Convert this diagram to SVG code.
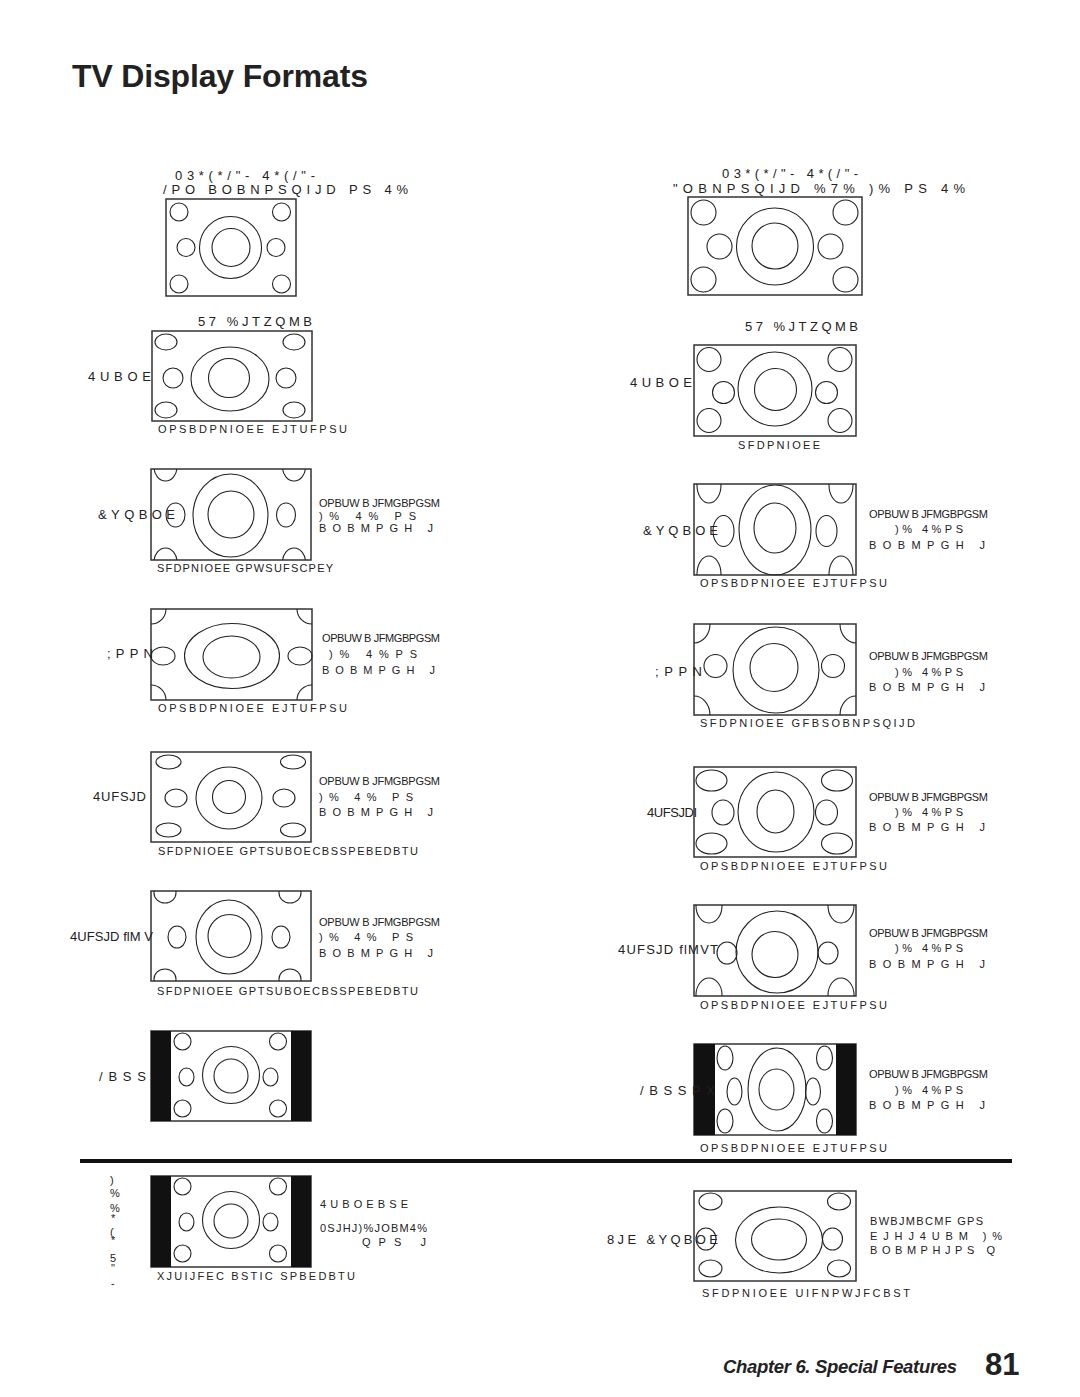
<svg xmlns="http://www.w3.org/2000/svg" width="1080" height="1397" viewBox="0 0 1080 1397">
<style>
.bx{fill:#fff;stroke:#333;stroke-width:1.5}
.sh{fill:none;stroke:#222;stroke-width:1.1}
.bar{fill:#111}
text{font-family:"Liberation Sans",Arial,Helvetica,sans-serif;fill:#222}
.hd{font-size:13px}
.lb{font-size:13px}
.sm{font-size:11px}
.cp{font-size:11px}
</style>
<defs>
<clipPath id="c3"><rect x="151" y="469" width="160" height="91"/></clipPath>
<clipPath id="c4"><rect x="151" y="609" width="161" height="91"/></clipPath>
<clipPath id="c6"><rect x="151" y="891" width="160" height="90"/></clipPath>
<clipPath id="r3c"><rect x="694" y="484" width="162" height="91"/></clipPath>
<clipPath id="r4c"><rect x="694" y="624" width="162" height="91"/></clipPath>
<clipPath id="r6c"><rect x="694" y="905" width="162" height="91"/></clipPath>
</defs>
<rect width="1080" height="1397" fill="#fff"/>
<text x="72" y="87" font-size="32" font-weight="bold" textLength="296" fill="#222">TV Display Formats</text>

<!-- LEFT COLUMN -->
<g id="l1">
<text class="hd" x="175" y="180" textLength="140">03*(*/&quot;- 4*(/&quot;-</text>
<text class="hd" x="163" y="194" textLength="245">/PO BOBNPSQIJD PS 4%</text>
<rect class="bx" x="166" y="199" width="130" height="97"/>
<circle class="sh" cx="179" cy="212" r="9"/><circle class="sh" cx="281.5" cy="212" r="9"/>
<circle class="sh" cx="179" cy="284" r="9"/><circle class="sh" cx="281.5" cy="284" r="9"/>
<circle class="sh" cx="186" cy="247.5" r="9"/><circle class="sh" cx="276" cy="247.5" r="9"/>
<circle class="sh" cx="230.5" cy="247.5" r="31"/><circle class="sh" cx="231" cy="247.5" r="19"/>
</g>

<g id="l2">
<text class="lb" x="198" y="326" textLength="114">57 %JTZQMB</text>
<text class="lb" x="88" y="381" textLength="63">4UBOE</text>
<rect class="bx" x="152" y="331" width="160" height="90"/>
<ellipse class="sh" cx="166" cy="342" rx="11" ry="8"/><ellipse class="sh" cx="294" cy="342" rx="11" ry="8"/>
<ellipse class="sh" cx="166" cy="410" rx="11" ry="8"/><ellipse class="sh" cx="294" cy="410" rx="11" ry="8"/>
<ellipse class="sh" cx="173" cy="378" rx="10" ry="10"/><ellipse class="sh" cx="286" cy="378" rx="10" ry="10"/>
<ellipse class="sh" cx="230" cy="379" rx="39" ry="32"/><ellipse class="sh" cx="229" cy="378" rx="20.5" ry="19.5"/>
<text class="cp" x="158" y="433" textLength="189">OPSBDPNIOEE EJTUFPSU</text>
</g>

<g id="l3">
<rect class="bx" x="151" y="469" width="160" height="91"/>
<g clip-path="url(#c3)">
<ellipse class="sh" cx="165.5" cy="467" rx="11.5" ry="14"/><ellipse class="sh" cx="294" cy="467" rx="11.5" ry="14"/>
<ellipse class="sh" cx="165.5" cy="562" rx="11.5" ry="14"/><ellipse class="sh" cx="294" cy="562" rx="11.5" ry="14"/>
</g>
<ellipse class="sh" cx="175.5" cy="515" rx="9.5" ry="12"/><ellipse class="sh" cx="286" cy="515" rx="9.5" ry="12"/>
<ellipse class="sh" cx="230.5" cy="515.5" rx="37.5" ry="41.5"/><ellipse class="sh" cx="231" cy="514.5" rx="23" ry="23.5"/>
<text class="lb" x="98" y="519" textLength="77">&amp;YQBOE</text>
<text class="sm" x="319" y="507" textLength="121">OPBUW B JFMGBPGSM</text>
<text class="sm" x="319" y="520" textLength="97">)% 4% PS</text>
<text class="sm" x="319" y="532" textLength="114">BOBMPGH J</text>
<text class="cp" x="157" y="572" textLength="176">SFDPNIOEE GPWSUFSCPEY</text>
</g>

<g id="l4">
<rect class="bx" x="151" y="609" width="161" height="91"/>
<g clip-path="url(#c4)">
<ellipse class="sh" cx="151" cy="609" rx="15" ry="15"/><ellipse class="sh" cx="312" cy="609" rx="15" ry="15"/>
<ellipse class="sh" cx="151" cy="700" rx="15" ry="15"/><ellipse class="sh" cx="312" cy="700" rx="15" ry="15"/>
</g>
<ellipse class="sh" cx="163" cy="656" rx="12" ry="9"/><ellipse class="sh" cx="300" cy="656" rx="12" ry="9"/>
<ellipse class="sh" cx="232" cy="656" rx="47.5" ry="32.5"/><ellipse class="sh" cx="231.5" cy="657" rx="28.5" ry="21"/>
<text class="lb" x="107" y="658" textLength="46">;PPN</text>
<text class="sm" x="322" y="642" textLength="118">OPBUW B JFMGBPGSM</text>
<text class="sm" x="329" y="658" textLength="88">)% 4%PS</text>
<text class="sm" x="322" y="674" textLength="113">BOBMPGH J</text>
<text class="cp" x="158" y="712" textLength="189">OPSBDPNIOEE EJTUFPSU</text>
</g>

<g id="l5">
<rect class="bx" x="151" y="752" width="160" height="90"/>
<ellipse class="sh" cx="168.5" cy="762" rx="12.5" ry="7"/><ellipse class="sh" cx="293" cy="762" rx="12.5" ry="7"/>
<ellipse class="sh" cx="168.5" cy="830" rx="12.5" ry="7"/><ellipse class="sh" cx="293" cy="830" rx="12.5" ry="7"/>
<ellipse class="sh" cx="176" cy="798" rx="11" ry="9"/><ellipse class="sh" cx="284" cy="798" rx="11" ry="9"/>
<ellipse class="sh" cx="229" cy="798" rx="33" ry="31"/><circle class="sh" cx="229" cy="797" r="16.5"/>
<text class="lb" x="93" y="801" textLength="53">4UFSJD</text>
<text class="sm" x="319" y="785" textLength="121">OPBUW B JFMGBPGSM</text>
<text class="sm" x="319" y="801" textLength="94">)% 4% PS</text>
<text class="sm" x="319" y="816" textLength="114">BOBMPGH J</text>
<text class="cp" x="158" y="855" textLength="260">SFDPNIOEE GPTSUBOECBSSPEBEDBTU</text>
</g>

<g id="l6">
<rect class="bx" x="151" y="891" width="160" height="90"/>
<g clip-path="url(#c6)">
<ellipse class="sh" cx="165" cy="893" rx="11" ry="10"/><ellipse class="sh" cx="290" cy="893" rx="11" ry="10"/>
<ellipse class="sh" cx="165" cy="979" rx="11" ry="10"/><ellipse class="sh" cx="290" cy="979" rx="11" ry="10"/>
</g>
<ellipse class="sh" cx="177" cy="937" rx="9" ry="11"/><ellipse class="sh" cx="281" cy="937" rx="9" ry="11"/>
<ellipse class="sh" cx="229" cy="937" rx="33" ry="37"/><circle class="sh" cx="229.5" cy="936" r="21.5"/>
<text class="lb" x="70" y="941" textLength="83">4UFSJD flM V</text>
<text class="sm" x="319" y="926" textLength="121">OPBUW B JFMGBPGSM</text>
<text class="sm" x="319" y="941" textLength="94">)% 4% PS</text>
<text class="sm" x="319" y="957" textLength="114">BOBMPGH J</text>
<text class="cp" x="157" y="995" textLength="261">SFDPNIOEE GPTSUBOECBSSPEBEDBTU</text>
</g>

<g id="l7">
<rect class="bx" x="151" y="1031" width="160" height="90"/>
<rect class="bar" x="151" y="1031" width="20" height="90"/><rect class="bar" x="291" y="1031" width="20" height="90"/>
<circle class="sh" cx="182.5" cy="1041.5" r="8.5"/><circle class="sh" cx="278" cy="1041.5" r="8.5"/>
<circle class="sh" cx="182.5" cy="1108.5" r="8.5"/><circle class="sh" cx="278" cy="1108.5" r="8.5"/>
<ellipse class="sh" cx="186.5" cy="1077" rx="7.5" ry="9"/><ellipse class="sh" cx="270.5" cy="1077" rx="7.5" ry="9"/>
<circle class="sh" cx="231" cy="1075" r="28.5"/><circle class="sh" cx="231" cy="1076" r="17"/>
<text class="lb" x="99" y="1081" textLength="47">/BSS</text>
</g>

<rect x="80" y="1159" width="932" height="4" fill="#111"/>

<g id="l8">
<text class="sm" x="110" y="1184">)</text>
<text class="sm" x="110" y="1197">%</text>
<text class="sm" x="110" y="1212">%</text>
<text class="sm" x="111" y="1222">*</text>
<text class="sm" x="110" y="1236">(</text>
<text class="sm" x="111" y="1244">*</text>
<text class="sm" x="110" y="1262">5</text>
<text class="sm" x="111" y="1272">&quot;</text>
<text class="sm" x="111" y="1287">-</text>
<rect class="bx" x="151" y="1176" width="160" height="91"/>
<rect class="bar" x="151" y="1176" width="20" height="91"/><rect class="bar" x="291" y="1176" width="20" height="91"/>
<circle class="sh" cx="182.5" cy="1186.5" r="8.5"/><circle class="sh" cx="278" cy="1186.5" r="8.5"/>
<circle class="sh" cx="182.5" cy="1253.5" r="8.5"/><circle class="sh" cx="278" cy="1253.5" r="8.5"/>
<ellipse class="sh" cx="186.5" cy="1222" rx="7.5" ry="9"/><ellipse class="sh" cx="270.5" cy="1222" rx="7.5" ry="9"/>
<circle class="sh" cx="231" cy="1220" r="28.5"/><circle class="sh" cx="231" cy="1221" r="17"/>
<text class="sm" x="320" y="1208" textLength="88">4UBOEBSE</text>
<text class="sm" x="320" y="1232" textLength="107">0SJHJ)%JOBM4%</text>
<text class="sm" x="362" y="1246" textLength="64">QPS      J</text>
<text class="cp" x="157" y="1280" textLength="198">XJUIJFEC BSTIC SPBEDBTU</text>
</g>

<!-- RIGHT COLUMN -->
<g id="r1">
<text class="hd" x="722" y="178" textLength="136">03*(*/&quot;- 4*(/&quot;-</text>
<text class="hd" x="673" y="193" textLength="292">&quot;OBNPSQIJD %7%  )% PS 4%</text>
<rect class="bx" x="688" y="197" width="174" height="98"/>
<circle class="sh" cx="703.5" cy="212.5" r="12.5"/><circle class="sh" cx="845.5" cy="212.5" r="12.5"/>
<circle class="sh" cx="703.5" cy="279.5" r="12.5"/><circle class="sh" cx="845.5" cy="279.5" r="12.5"/>
<circle class="sh" cx="719.5" cy="246.5" r="12.5"/><circle class="sh" cx="830.5" cy="246.5" r="12.5"/>
<circle class="sh" cx="775" cy="246.5" r="38.5"/><circle class="sh" cx="775" cy="246" r="23"/>
</g>

<g id="r2">
<text class="lb" x="745" y="331" textLength="113">57 %JTZQMB</text>
<text class="lb" x="630" y="387" textLength="62">4UBOE</text>
<rect class="bx" x="694" y="345" width="162" height="91"/>
<circle class="sh" cx="709" cy="359.5" r="12"/><circle class="sh" cx="840" cy="359.5" r="12"/>
<circle class="sh" cx="709" cy="420.5" r="12"/><circle class="sh" cx="840" cy="420.5" r="12"/>
<circle class="sh" cx="723.5" cy="392.5" r="11"/><circle class="sh" cx="826.5" cy="392.5" r="11"/>
<circle class="sh" cx="775" cy="389" r="37"/><circle class="sh" cx="775.5" cy="389.5" r="21"/>
<text class="cp" x="738" y="449" textLength="82">SFDPNIOEE</text>
</g>

<g id="r3">
<rect class="bx" x="694" y="484" width="162" height="91"/>
<g clip-path="url(#r3c)">
<ellipse class="sh" cx="709" cy="485" rx="12" ry="18"/><ellipse class="sh" cx="841" cy="485" rx="12" ry="18"/>
<ellipse class="sh" cx="709" cy="574" rx="12" ry="18"/><ellipse class="sh" cx="841" cy="574" rx="12" ry="18"/>
</g>
<ellipse class="sh" cx="723.5" cy="531" rx="10.5" ry="15.5"/><ellipse class="sh" cx="826.5" cy="531" rx="10.5" ry="15.5"/>
<ellipse class="sh" cx="775" cy="530" rx="36" ry="45"/><ellipse class="sh" cx="775" cy="528" rx="21" ry="25"/>
<text class="lb" x="643" y="535" textLength="75">&amp;YQBOE</text>
<text class="sm" x="869" y="518" textLength="119">OPBUW B JFMGBPGSM</text>
<text class="sm" x="895" y="533" textLength="68">)% 4%PS</text>
<text class="sm" x="869" y="549" textLength="116">BOBMPGH J</text>
<text class="cp" x="700" y="587" textLength="187">OPSBDPNIOEE EJTUFPSU</text>
</g>

<g id="r4">
<rect class="bx" x="694" y="624" width="162" height="91"/>
<g clip-path="url(#r4c)">
<ellipse class="sh" cx="694" cy="624" rx="16" ry="19"/><ellipse class="sh" cx="856" cy="624" rx="16" ry="19"/>
<ellipse class="sh" cx="694" cy="715" rx="16" ry="19"/><ellipse class="sh" cx="856" cy="715" rx="16" ry="19"/>
</g>
<circle class="sh" cx="715.5" cy="666" r="11.5"/><circle class="sh" cx="833" cy="666" r="11.5"/>
<circle class="sh" cx="776" cy="670" r="43"/><circle class="sh" cx="774" cy="667.5" r="24"/>
<text class="lb" x="655" y="676" textLength="47">;PPN</text>
<text class="sm" x="869" y="660" textLength="119">OPBUW B JFMGBPGSM</text>
<text class="sm" x="895" y="676" textLength="68">)% 4%PS</text>
<text class="sm" x="869" y="691" textLength="116">BOBMPGH J</text>
<text class="cp" x="700" y="727" textLength="215">SFDPNIOEE GFBSOBNPSQIJD</text>
</g>

<g id="r5">
<rect class="bx" x="694" y="767" width="162" height="90"/>
<ellipse class="sh" cx="711.5" cy="780.5" rx="15.5" ry="10.5"/><ellipse class="sh" cx="837" cy="780.5" rx="15.5" ry="10.5"/>
<ellipse class="sh" cx="711.5" cy="843.5" rx="15.5" ry="10.5"/><ellipse class="sh" cx="837" cy="843.5" rx="15.5" ry="10.5"/>
<ellipse class="sh" cx="723" cy="812.5" rx="11" ry="12.5"/><ellipse class="sh" cx="826.5" cy="812.5" rx="11" ry="12.5"/>
<ellipse class="sh" cx="776" cy="812" rx="38" ry="40"/><ellipse class="sh" cx="775.5" cy="811.5" rx="18.5" ry="21.5"/>
<text class="lb" x="647" y="817" textLength="50">4UFSJDI</text>
<text class="sm" x="869" y="801" textLength="119">OPBUW B JFMGBPGSM</text>
<text class="sm" x="895" y="816" textLength="68">)% 4%PS</text>
<text class="sm" x="869" y="831" textLength="116">BOBMPGH J</text>
<text class="cp" x="700" y="870" textLength="187">OPSBDPNIOEE EJTUFPSU</text>
</g>

<g id="r6">
<rect class="bx" x="694" y="905" width="162" height="91"/>
<g clip-path="url(#r6c)">
<ellipse class="sh" cx="709" cy="906" rx="13" ry="17"/><ellipse class="sh" cx="841" cy="906" rx="13" ry="17"/>
<ellipse class="sh" cx="709" cy="995" rx="13" ry="17"/><ellipse class="sh" cx="841" cy="995" rx="13" ry="17"/>
</g>
<ellipse class="sh" cx="727" cy="953" rx="10" ry="11"/><ellipse class="sh" cx="828" cy="953" rx="10" ry="11"/>
<circle class="sh" cx="777" cy="952" r="41"/><circle class="sh" cx="775" cy="954.5" r="23"/>
<text class="lb" x="618" y="954" textLength="100">4UFSJD flMVT</text>
<text class="sm" x="869" y="937" textLength="119">OPBUW B JFMGBPGSM</text>
<text class="sm" x="895" y="952" textLength="68">)% 4%PS</text>
<text class="sm" x="869" y="968" textLength="116">BOBMPGH J</text>
<text class="cp" x="700" y="1009" textLength="187">OPSBDPNIOEE EJTUFPSU</text>
</g>

<g id="r7">
<rect class="bx" x="694" y="1044" width="162" height="91"/>
<rect class="bar" x="694" y="1044" width="21" height="91"/><rect class="bar" x="836" y="1044" width="20" height="91"/>
<ellipse class="sh" cx="725" cy="1058" rx="8" ry="12"/><ellipse class="sh" cx="824.5" cy="1058" rx="8" ry="12"/>
<ellipse class="sh" cx="725" cy="1121" rx="8" ry="12"/><ellipse class="sh" cx="824.5" cy="1121" rx="8" ry="12"/>
<ellipse class="sh" cx="734.5" cy="1091.5" rx="7.5" ry="13.5"/><ellipse class="sh" cx="813" cy="1091.5" rx="7.5" ry="13.5"/>
<ellipse class="sh" cx="777" cy="1089.5" rx="29" ry="41.5"/><ellipse class="sh" cx="776.5" cy="1089.5" rx="17.5" ry="20.5"/>
<text class="lb" x="640" y="1095" textLength="75">/BSSPX</text>
<text class="sm" x="869" y="1078" textLength="119">OPBUW B JFMGBPGSM</text>
<text class="sm" x="895" y="1094" textLength="68">)% 4%PS</text>
<text class="sm" x="869" y="1109" textLength="116">BOBMPGH J</text>
<text class="cp" x="700" y="1152" textLength="187">OPSBDPNIOEE EJTUFPSU</text>
</g>

<g id="r8">
<rect class="bx" x="694" y="1191" width="162" height="90"/>
<ellipse class="sh" cx="710.5" cy="1201.5" rx="11.5" ry="8.5"/><ellipse class="sh" cx="839" cy="1201.5" rx="11.5" ry="8.5"/>
<ellipse class="sh" cx="710.5" cy="1268.5" rx="11.5" ry="8.5"/><ellipse class="sh" cx="839" cy="1268.5" rx="11.5" ry="8.5"/>
<ellipse class="sh" cx="706" cy="1239" rx="10" ry="11"/><ellipse class="sh" cx="832.5" cy="1239" rx="10" ry="11"/>
<ellipse class="sh" cx="779" cy="1240" rx="43.5" ry="33"/><ellipse class="sh" cx="779" cy="1239.5" rx="27.5" ry="20.5"/>
<text class="lb" x="607" y="1244" textLength="111">8JE &amp;YQBOE</text>
<text class="sm" x="870" y="1225" textLength="113">BWBJMBCMF GPS</text>
<text class="sm" x="870" y="1240" textLength="132">EJHJ4UBM      )%</text>
<text class="sm" x="870" y="1254" textLength="125">BOBMPHJPS   Q</text>
<text class="cp" x="702" y="1297" textLength="208">SFDPNIOEE UIFNPWJFCBST</text>
</g>

<text x="723" y="1373" font-size="18.5" font-weight="bold" font-style="italic" textLength="234" fill="#222">Chapter 6. Special Features</text>
<text x="985" y="1375" font-size="31" font-weight="bold" fill="#222">81</text>
</svg>
